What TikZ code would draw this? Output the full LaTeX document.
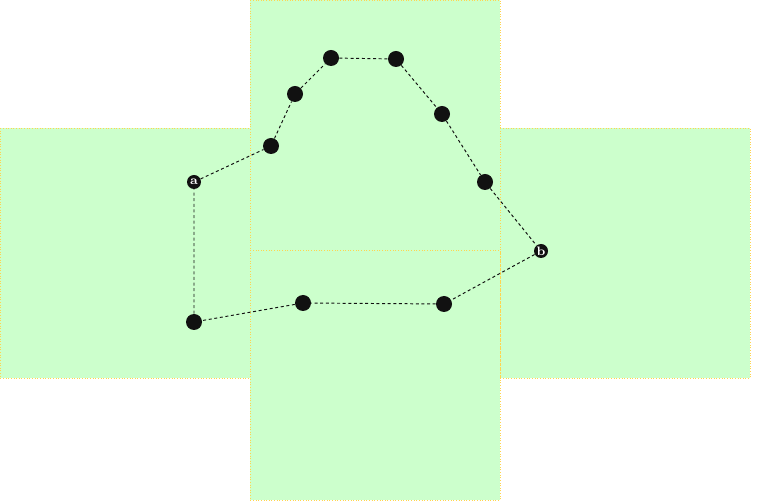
\documentclass[tikz,border=0pt]{standalone}
\usepackage{tikz}
\usetikzlibrary{calc}

\definecolor{facegreen}{HTML}{CCFFCC}
\definecolor{edgeyellow}{HTML}{FFD54F}
\definecolor{dotblack}{HTML}{111111}

\begin{document}
\begin{tikzpicture}[x=0.02cm, y=-0.02cm,
    face/.style={fill=facegreen, draw=edgeyellow, densely dotted, line width=0.5pt},
    pt/.style={circle, fill=dotblack, inner sep=0pt, minimum size=0.32cm},
    endpt/.style={circle, fill=dotblack, inner sep=0pt, minimum size=0.28cm, text=white, font=\scriptsize\bfseries},
    route/.style={dash pattern=on 1.7pt off 1.5pt, line width=0.55pt, dotblack}]

        \useasboundingbox (0,0) rectangle (770,502);

        % faces of the net
        \draw[face] (0,128) rectangle (250,378);
        \draw[face] (250,0) rectangle (500,250);
        \draw[face] (500,128) rectangle (750,378);
        \draw[face] (250,250) rectangle (500,500);

        % points
        \node[endpt] (a) at (194,182) {a};
        \node[endpt] (b) at (541,251) {b};
        \node[pt] (p1) at (271,146) {};
        \node[pt] (p2) at (295,94) {};
        \node[pt] (p3) at (331,58) {};
        \node[pt] (p4) at (396,59) {};
        \node[pt] (p5) at (442,114) {};
        \node[pt] (p6) at (485,182) {};
        \node[pt] (q1) at (444,304) {};
        \node[pt] (q2) at (303,303) {};
        \node[pt] (q3) at (194,322) {};

        % the route
        \draw[route] (a) -- (p1) -- (p2) -- (p3) -- (p4) -- (p5) -- (p6) -- (b);
        \draw[route] (b) -- (q1) -- (q2) -- (q3) -- (a);

    \end{tikzpicture}
\end{document}
